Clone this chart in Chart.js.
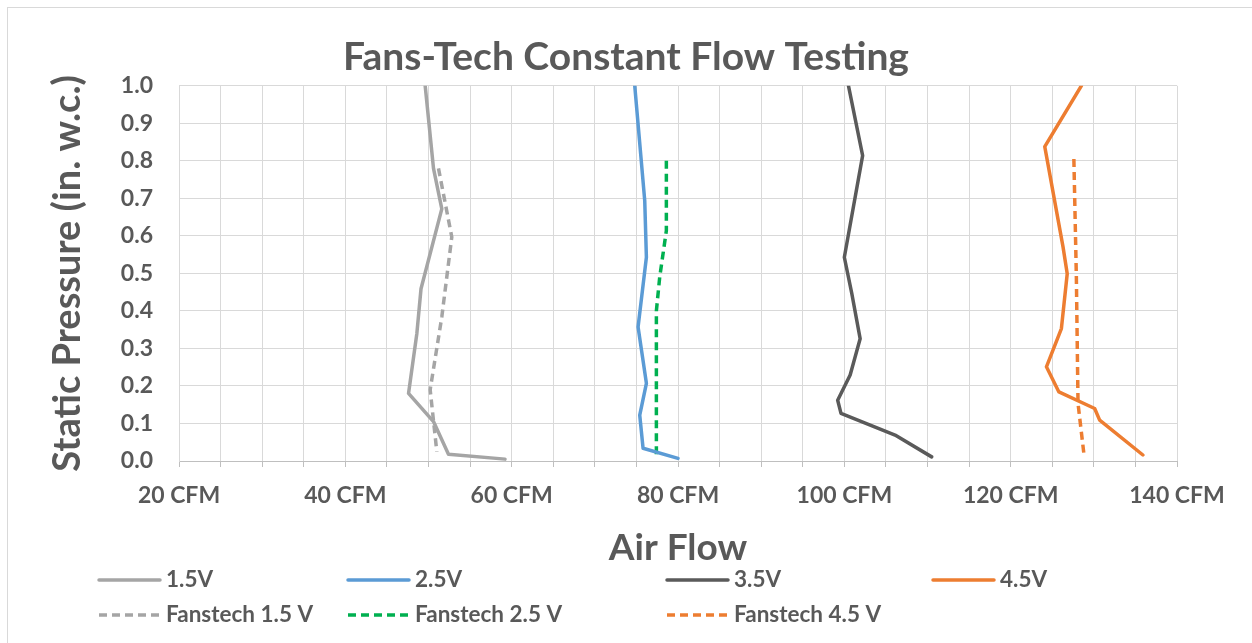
<!DOCTYPE html>
<html>
<head>
<meta charset="utf-8">
<script src="https://cdn.jsdelivr.net/npm/chart.js@4.4.1/dist/chart.umd.min.js"></script>
<style>
    html, body { margin: 0; padding: 0; background: #fff; }
    #wrap { position: relative; width: 1252px; height: 643px; }
</style>
</head>
<body>
<div id="wrap"><canvas id="flowChart" width="1252" height="643"></canvas></div>
<script>
// airflow (CFM) / static pressure (in. w.c.)
const flow15 = [49.6, 50.6, 51.6, 49.1, 48.6, 47.6, 50.6, 52.4, 59.2];
const pres15 = [1.0, 0.78, 0.672, 0.459, 0.34, 0.18, 0.105, 0.018, 0.005];
const flow25 = [74.8, 76.0, 76.2, 75.2, 76.2, 75.4, 75.8, 80.0];
const pres25 = [1.0, 0.694, 0.543, 0.357, 0.207, 0.122, 0.034, 0.007];
const flow35 = [100.5, 102.2, 100.0, 100.9, 101.9, 100.7, 99.2, 99.6, 106.1, 110.5];
const pres35 = [1.0, 0.814, 0.543, 0.446, 0.326, 0.229, 0.162, 0.127, 0.069, 0.011];
const flow45 = [128.5, 124.1, 126.3, 126.8, 126.1, 124.3, 125.8, 130.1, 130.7, 135.9];
const pres45 = [1.0, 0.838, 0.57, 0.499, 0.353, 0.251, 0.184, 0.14, 0.109, 0.016];
const ftFlow15 = [51.2, 52.8, 51.6, 50.2, 51.0];
const ftPres15 = [0.78, 0.597, 0.384, 0.19, 0.025];
const ftFlow25 = [78.6, 78.6, 77.8, 77.4, 77.4];
const ftPres25 = [0.80, 0.614, 0.49, 0.40, 0.011];
const ftFlow45 = [127.6, 127.9, 128.1, 128.8];
const ftPres45 = [0.805, 0.49, 0.153, 0.02];

const seriesNames = ['1.5V', '2.5V', '3.5V', '4.5V', 'Fanstech 1.5 V', 'Fanstech 2.5 V', 'Fanstech 4.5 V'];
const seriesColors = ['#a5a5a5', '#5b9bd5', '#5a5a5a', '#ed7d31', '#a5a5a5', '#00b050', '#ed7d31'];
const seriesDashed = [false, false, false, false, true, true, true];
const xTicks = [20, 40, 60, 80, 100, 120, 140];

const textColor = '#595959';
const fontFam = 'Lato, "Open Sans", sans-serif';

function pts(xs, ys) {
    return xs.map((x, i) => ({x: x, y: ys[i]}));
}

const allData = [
    pts(flow15, pres15), pts(flow25, pres25), pts(flow35, pres35), pts(flow45, pres45),
    pts(ftFlow15, ftPres15), pts(ftFlow25, ftPres25), pts(ftFlow45, ftPres45)
];

const datasets = allData.map((d, i) => ({
    label: seriesNames[i],
    data: d,
    borderColor: seriesColors[i],
    backgroundColor: seriesColors[i],
    borderWidth: 3.5,
    borderDash: seriesDashed[i] ? [8, 5] : [],
    borderCapStyle: seriesDashed[i] ? 'butt' : 'round',
    borderJoinStyle: 'round',
    pointRadius: 0,
    pointHoverRadius: 0,
    showLine: true,
    fill: false,
    tension: 0
}));

// outer frame + two-row legend like the original
const legendCols = [99, 348, 667, 933];
const legendRows = [580, 615];
const framePlugin = {
    id: 'frame',
    beforeDraw(chart) {
        const ctx = chart.ctx;
        ctx.save();
        ctx.strokeStyle = '#d9d9d9';
        ctx.lineWidth = 1;
        ctx.strokeRect(7.5, 7.5, 1262, 660);
        ctx.restore();
    },
    afterDraw(chart) {
        const ctx = chart.ctx;
        ctx.save();
        chart.data.datasets.forEach((ds, i) => {
            const col = i < 4 ? i : i - 4;
            const row = i < 4 ? 0 : 1;
            const x0 = legendCols[col];
            const y = legendRows[row];
            ctx.beginPath();
            ctx.strokeStyle = ds.borderColor;
            ctx.lineWidth = 3.5;
            ctx.lineCap = ds.borderCapStyle;
            ctx.setLineDash(ds.borderDash);
            ctx.moveTo(x0, y);
            ctx.lineTo(x0 + 61, y);
            ctx.stroke();
            ctx.setLineDash([]);
            ctx.fillStyle = textColor;
            ctx.font = 'bold 22.5px ' + fontFam;
            ctx.textBaseline = 'middle';
            ctx.textAlign = 'left';
            ctx.fillText(ds.label, x0 + 67, y);
        });
        ctx.restore();
    }
};

const config = {
    type: 'scatter',
    data: {datasets: datasets},
    options: {
        responsive: false,
        animation: false,
        layout: {padding: {left: 0, right: 0, top: 0, bottom: 73}},
        plugins: {
            legend: {display: false},
            tooltip: {enabled: false},
            title: {
                display: true,
                text: 'Fans-Tech Constant Flow Testing',
                color: textColor,
                font: {family: fontFam, size: 39, weight: 'bold'},
                padding: {top: 34, bottom: 5}
            }
        },
        scales: {
            x: {
                type: 'linear',
                min: 20,
                max: 140,
                afterFit: (scale) => { scale.height = 109; },
                ticks: {
                    stepSize: 5,
                    autoSkip: false,
                    maxRotation: 0,
                    minRotation: 0,
                    padding: 15,
                    color: textColor,
                    font: {family: fontFam, size: 23, weight: 'bold'},
                    callback: (v) => xTicks.includes(v) ? v + ' CFM' : ''
                },
                grid: {color: '#d9d9d9', tickColor: '#bfbfbf', tickLength: 6, lineWidth: 1},
                border: {color: '#bfbfbf', width: 1},
                title: {
                    display: true,
                    text: 'Air Flow',
                    color: textColor,
                    font: {family: fontFam, size: 37, weight: 'bold'},
                    padding: {top: 0, bottom: 0}
                }
            },
            y: {
                type: 'linear',
                min: 0,
                max: 1,
                afterFit: (scale) => { scale.width = 179; },
                ticks: {
                    stepSize: 0.1,
                    padding: 26,
                    color: textColor,
                    font: {family: fontFam, size: 23, weight: 'bold'},
                    callback: (v) => v.toFixed(1)
                },
                grid: {color: '#d9d9d9', drawTicks: false, lineWidth: 1},
                border: {color: '#d9d9d9', width: 1},
                title: {
                    display: true,
                    text: 'Static Pressure (in. w.c.)',
                    color: textColor,
                    font: {family: fontFam, size: 38, weight: 'bold'},
                    padding: {top: 45, bottom: 0}
                }
            },
            // empty right-hand axis, only keeps the right margin so the title centres on the page
            spacer: {
                type: 'linear',
                position: 'right',
                min: 0,
                max: 1,
                afterFit: (scale) => { scale.width = 75; },
                ticks: {display: false},
                grid: {display: false, drawOnChartArea: false},
                border: {display: false}
            }
        }
    },
    plugins: [framePlugin]
};

new Chart(document.getElementById('flowChart'), config);
</script>
</body>
</html>
